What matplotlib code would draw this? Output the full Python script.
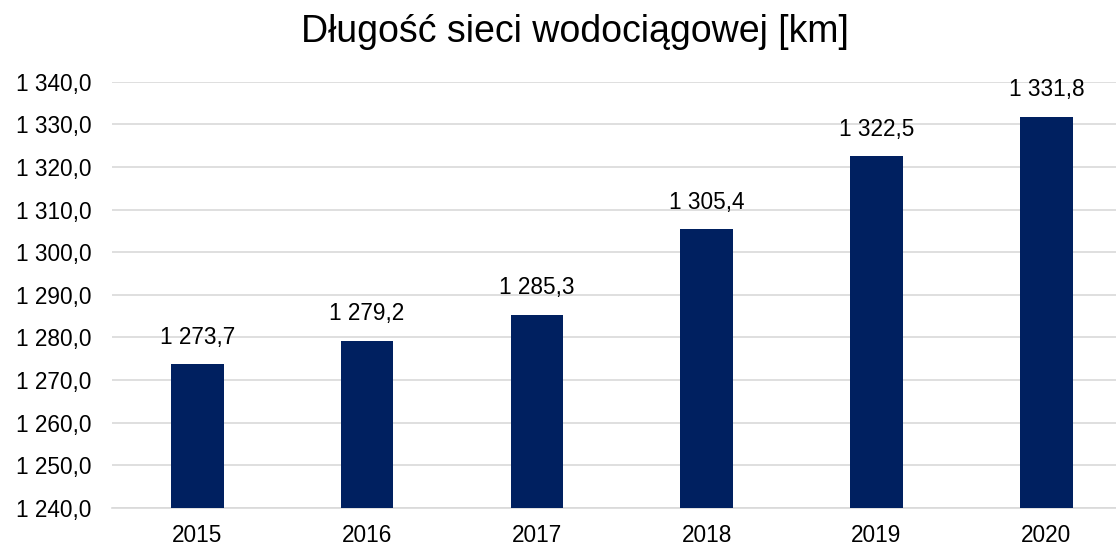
import matplotlib.pyplot as plt
from matplotlib.ticker import FuncFormatter

years = ['2015', '2016', '2017', '2018', '2019', '2020']
length_km = [1273.7, 1279.2, 1285.3, 1305.4, 1322.5, 1331.8]
y_ticks = [1240, 1250, 1260, 1270, 1280, 1290, 1300, 1310, 1320, 1330, 1340]


def pl_fmt(v, pos=None):
    # polski format: spacja jako separator tysięcy, przecinek dziesiętny
    s = f'{v:,.1f}'
    return s.replace(',', ' ').replace('.', ',')


plt.rcParams['font.family'] = ['Liberation Sans', 'DejaVu Sans']

fig = plt.figure(figsize=(11.16, 5.47), dpi=100)
ax = fig.add_axes([0.1007, 0.0718, 0.913, 0.7788])

x = range(len(years))
bars = ax.bar(x, length_km, width=0.31, color='#002060', zorder=3)

for xi, v in zip(x, length_km):
    ax.annotate(pl_fmt(v), (xi, v), xytext=(0, 11), textcoords='offset points',
                ha='center', va='bottom', fontsize=16.3, color='#000000')

ax.set_xlim(-0.5, len(years) - 0.5)
ax.set_ylim(1240, 1340)
ax.set_yticks(y_ticks)
ax.yaxis.set_major_formatter(FuncFormatter(pl_fmt))
ax.set_xticks(list(x))
ax.set_xticklabels(years)
ax.tick_params(axis='both', length=0, labelsize=16.3, colors='#000000')
ax.tick_params(axis='y', pad=15)
ax.tick_params(axis='x', pad=12)

ax.grid(axis='y', color='#d9d9d9', linewidth=1.2, zorder=0)
for side in ['top', 'right', 'left']:
    ax.spines[side].set_visible(False)
ax.spines['bottom'].set_color('#d9d9d9')
ax.spines['bottom'].set_linewidth(1.2)

fig.text(575 / 1116, 1 - 32 / 547, 'Długość sieci wodociągowej [km]',
         ha='center', va='center', fontsize=27, color='#000000')

fig.savefig('out.png', dpi=100)
